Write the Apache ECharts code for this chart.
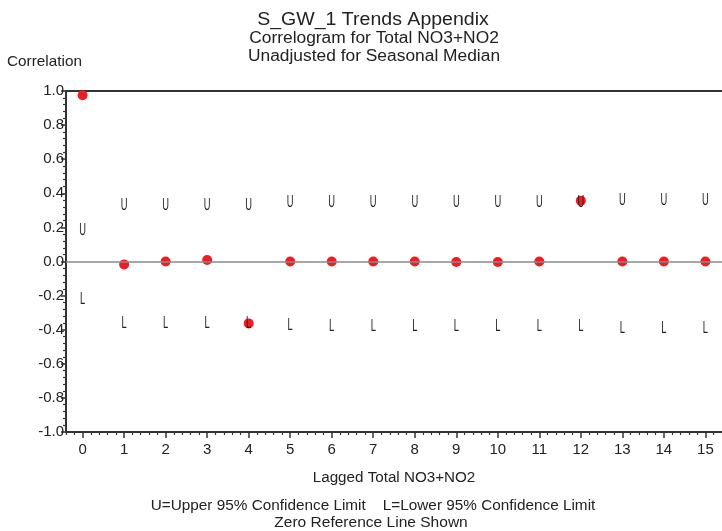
<!DOCTYPE html>
<html>
<head>
<meta charset="utf-8">
<title>S_GW_1 Trends Appendix</title>
<script src="https://cdn.jsdelivr.net/npm/echarts@6/dist/echarts.min.js"></script>
<style>
  html, body { margin: 0; padding: 0; background: #fff; }
  #chart { width: 722px; height: 531px; }
</style>
</head>
<body>
<div id="chart"></div>
<script>
// Lags shown on the horizontal axis
const lags = [0, 1, 2, 3, 4, 5, 6, 7, 8, 9, 10, 11, 12, 13, 14, 15];
// Autocorrelation of Total NO3+NO2 at each lag
const correlation = [0.975, -0.017, 0.0, 0.009, -0.363, 0.0, 0.0, 0.0, 0.0, -0.003, -0.003, 0.0, 0.357, 0.0, 0.0, 0.0];
// Upper 95% confidence limit (U)
const upperLimit = [0.185, 0.328, 0.328, 0.328, 0.328, 0.345, 0.345, 0.345, 0.345, 0.345, 0.345, 0.345, 0.345, 0.357, 0.357, 0.357];
// Lower 95% confidence limit (L)
const lowerLimit = [-0.22, -0.363, -0.363, -0.363, -0.363, -0.376, -0.38, -0.38, -0.38, -0.38, -0.38, -0.38, -0.38, -0.394, -0.394, -0.394];
// Vertical axis tick labels
const yTicks = ['-1.0', '-0.8', '-0.6', '-0.4', '-0.2', '0.0', '0.2', '0.4', '0.6', '0.8', '1.0'];

const FONT = 'Liberation Sans, Arial, sans-serif';
const INK = '#222';

// Minor tick positions every 0.2 along the lag axis
const minorX = [];
for (let i = -2; i <= 77; i++) {
  if (i % 5 !== 0) minorX.push(+(i * 0.2).toFixed(1));
}

function letterSeries(name, values, letter) {
  return {
    name: name,
    type: 'custom',
    z: 4,
    silent: true,
    data: lags.map((l, i) => [l, values[i]]),
    renderItem: function (params, api) {
      const p = api.coord([api.value(0), api.value(1)]);
      return {
        type: 'text',
        x: p[0],
        y: p[1],
        scaleX: 0.55,
        style: {
          text: letter,
          fontSize: 17,
          fontFamily: FONT,
          fill: INK,
          align: 'center',
          verticalAlign: 'middle'
        }
      };
    }
  };
}

// Centred text block, slightly widened
function label(text, x, y, size, widen) {
  return {
    type: 'text', x: x, y: y, silent: true, scaleX: widen || 1,
    style: { text: text, fontSize: size, fontFamily: FONT, fill: INK, align: 'center', verticalAlign: 'middle' }
  };
}

const chart = echarts.init(document.getElementById('chart'), null, { renderer: 'canvas' });

chart.setOption({
  backgroundColor: '#fff',
  animation: false,
  textStyle: { fontFamily: FONT },
  grid: { left: 66, right: 0, top: 91, bottom: 99, containLabel: false },
  xAxis: [
    {
      type: 'value',
      min: -0.4,
      max: 15.4,
      position: 'bottom',
      name: 'Lagged Total NO3+NO2',
      nameLocation: 'middle',
      nameGap: 38,
      nameTextStyle: { fontSize: 15.2, color: INK, fontFamily: FONT },
      axisLine: { show: true, onZero: false, lineStyle: { color: '#333', width: 2 } },
      axisTick: { show: true, customValues: lags, length: 6, inside: false, lineStyle: { color: '#333', width: 1.5 } },
      axisLabel: { show: true, customValues: lags, fontSize: 15, color: INK, margin: 10, fontFamily: FONT },
      splitLine: { show: false }
    },
    {
      type: 'value',
      min: -0.4,
      max: 15.4,
      position: 'bottom',
      axisLine: { show: false, onZero: false },
      axisTick: { show: true, customValues: minorX, length: 3, lineStyle: { color: '#333', width: 1.2 } },
      axisLabel: { show: false },
      splitLine: { show: false }
    },
    {
      type: 'value',
      min: -0.4,
      max: 15.4,
      position: 'top',
      axisLine: { show: true, onZero: false, lineStyle: { color: '#333', width: 2 } },
      axisTick: { show: false },
      axisLabel: { show: false },
      splitLine: { show: false }
    }
  ],
  yAxis: {
    type: 'value',
    min: -1,
    max: 1,
    interval: 0.2,
    axisLine: { show: true, onZero: false, lineStyle: { color: '#333', width: 2 } },
    axisTick: { show: true, length: 5, lineStyle: { color: '#333', width: 1.5 } },
    minorTick: { show: true, splitNumber: 5, length: 3, lineStyle: { color: '#333', width: 1.2 } },
    axisLabel: {
      fontSize: 15,
      color: INK,
      margin: 2,
      fontFamily: FONT,
      formatter: function (v) {
        const idx = Math.round((v + 1) / 0.2);
        return yTicks[idx];
      }
    },
    splitLine: { show: false }
  },
  series: [
    {
      name: 'Correlation',
      type: 'scatter',
      z: 3,
      symbol: 'circle',
      symbolSize: 10,
      itemStyle: { color: '#ee1d23', opacity: 1 },
      data: lags.map((l, i) => [l, correlation[i]]),
      markLine: {
        silent: true,
        symbol: 'none',
        label: { show: false },
        lineStyle: { color: '#8a8a8a', width: 1.5, type: 'solid' },
        data: [{ yAxis: 0 }]
      }
    },
    letterSeries('Upper 95% Confidence Limit', upperLimit, 'U'),
    letterSeries('Lower 95% Confidence Limit', lowerLimit, 'L')
  ],
  graphic: [
    label('S_GW_1 Trends Appendix', 373, 19.5, 18.8, 1.04),
    label('Correlogram for Total NO3+NO2', 374, 39, 15.8, 1.1),
    label('Unadjusted for Seasonal Median', 374, 56.5, 15.8, 1.1),
    label('Correlation', 44.5, 62, 14.2, 1.08),
    label('U=Upper 95% Confidence Limit    L=Lower 95% Confidence Limit', 373, 506, 14.2, 1.08),
    label('Zero Reference Line Shown', 371, 523, 14.4, 1.08)
  ]
});
</script>
</body>
</html>
